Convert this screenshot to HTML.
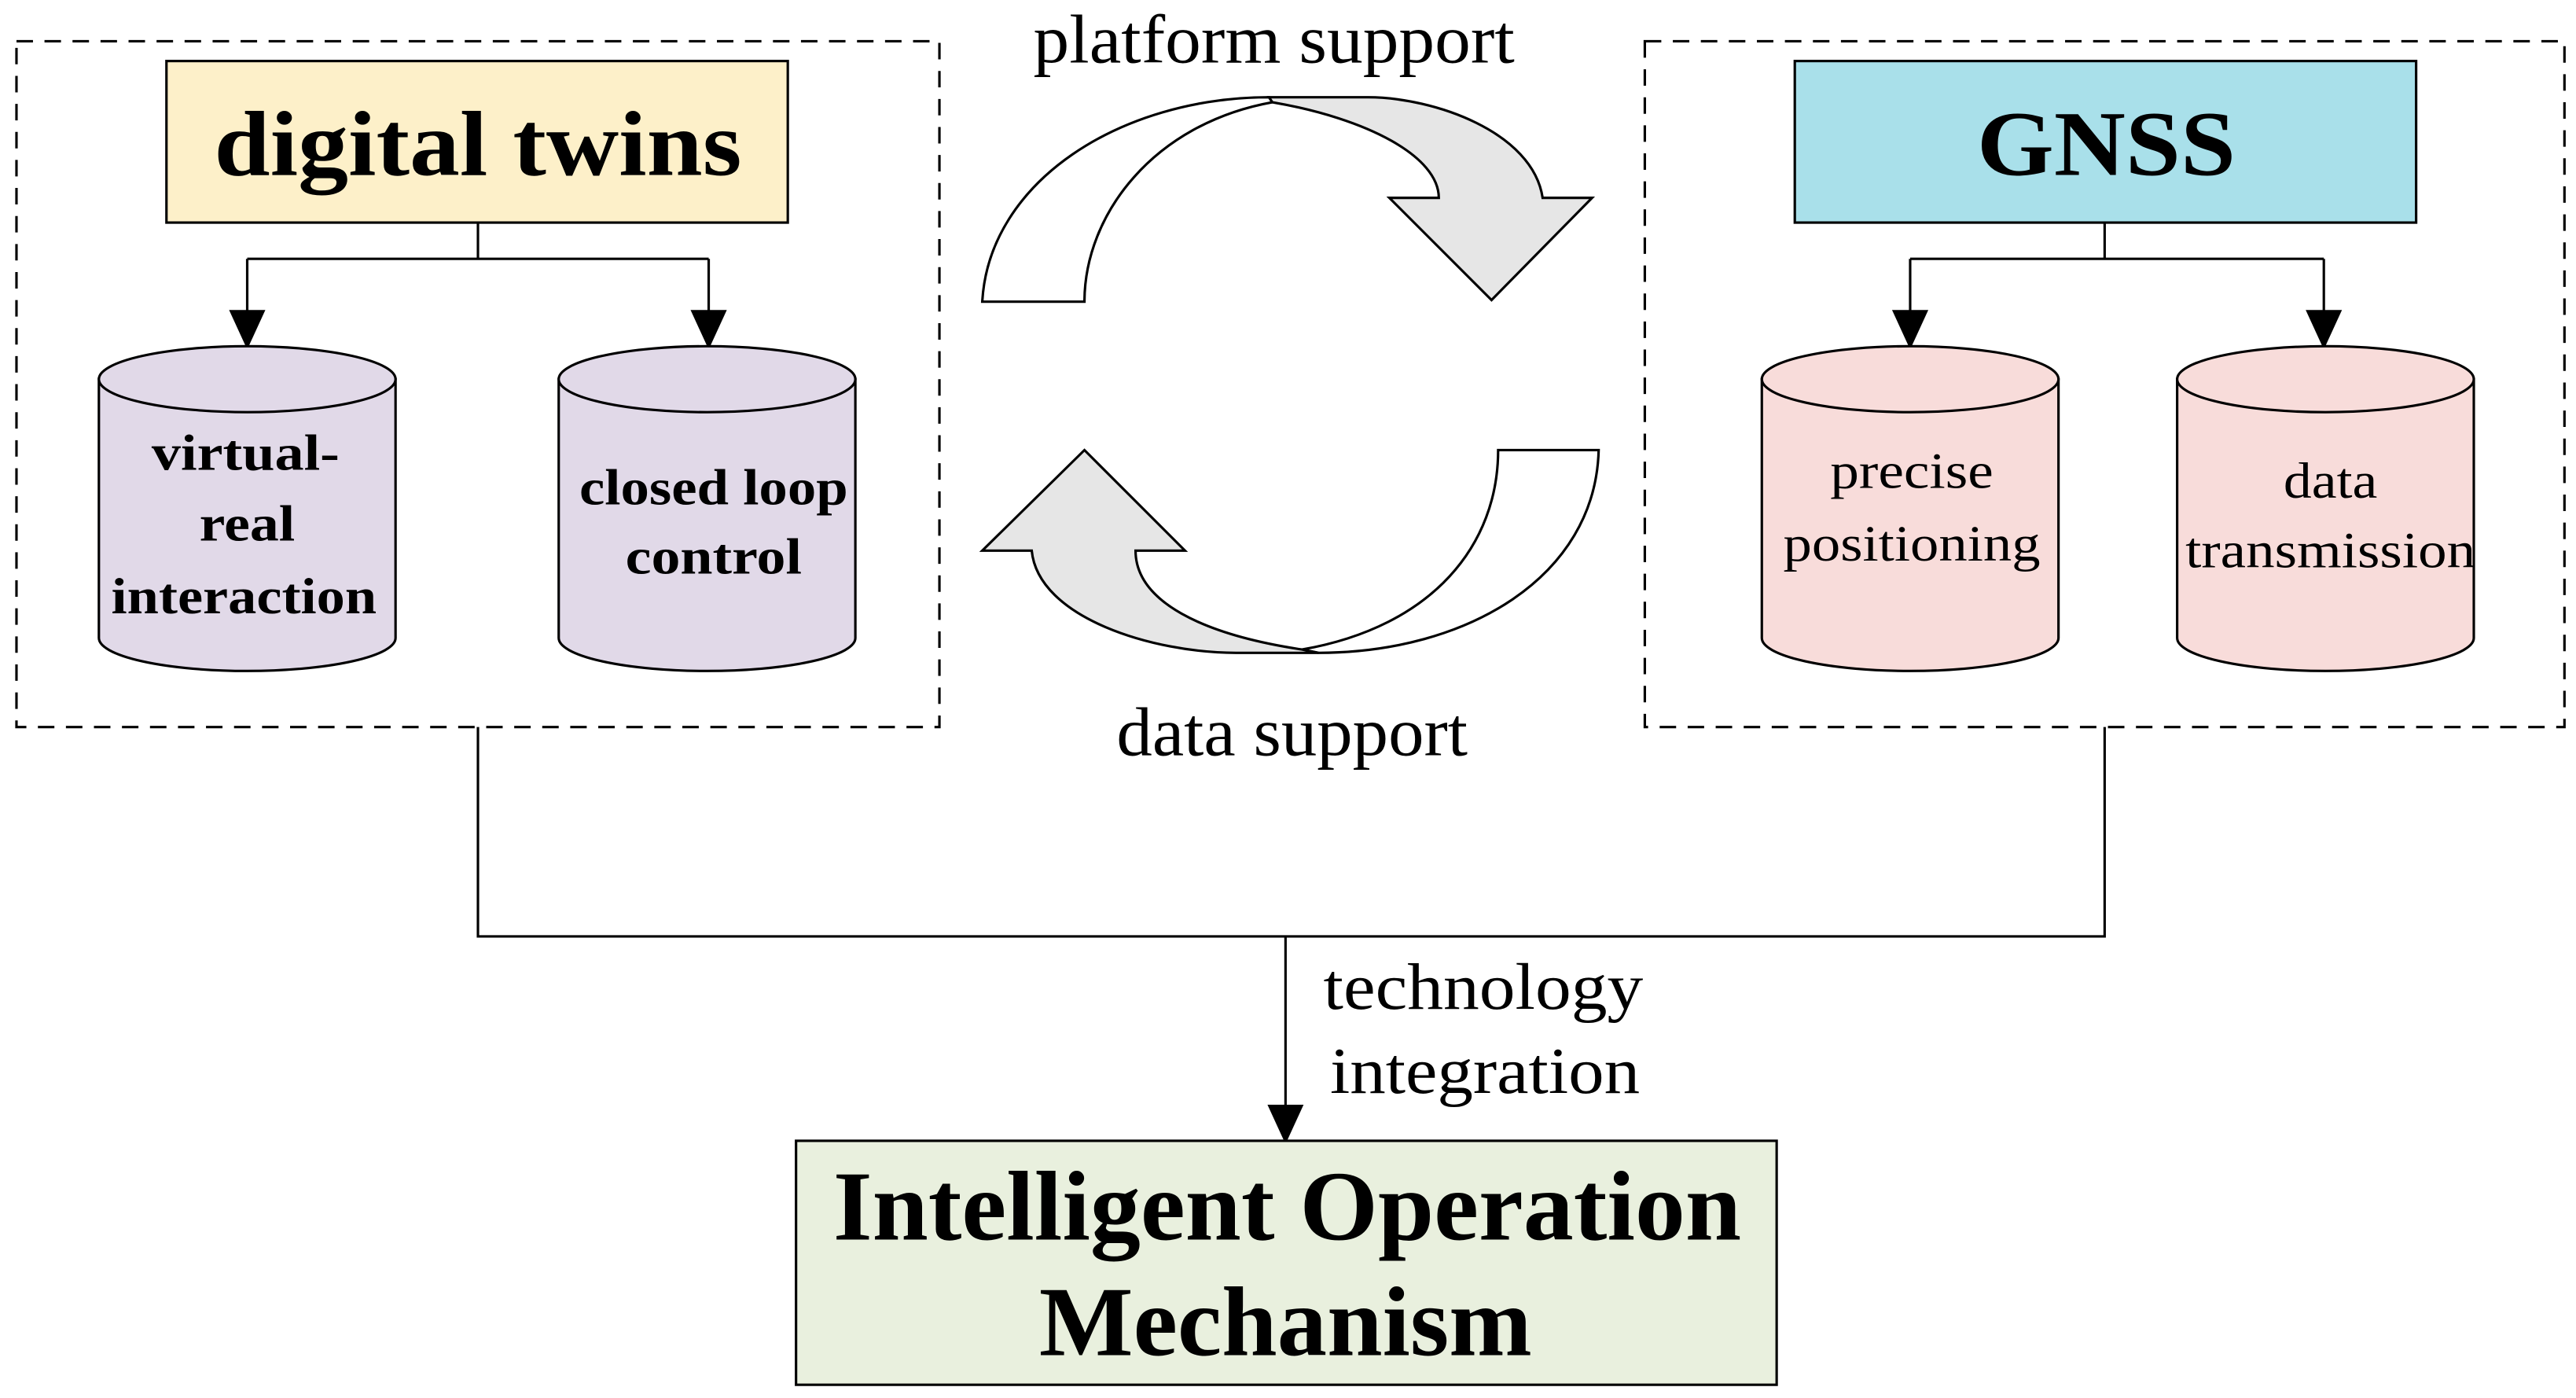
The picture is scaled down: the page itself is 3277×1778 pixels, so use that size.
<!DOCTYPE html>
<html><head><meta charset="utf-8"><style>
html,body{margin:0;padding:0;background:#fff}
svg{display:block}
text{font-family:"Liberation Serif",serif;fill:#000}
</style></head><body>
<svg width="3277" height="1778" viewBox="0 0 1563 848" xmlns="http://www.w3.org/2000/svg">
<defs>
<marker id="ah2" viewBox="0 0 24 24" markerWidth="24" markerHeight="24" refX="22" refY="12" orient="auto" markerUnits="userSpaceOnUse"><path d="M0,1 L24,12 L0,23z" fill="#000"/></marker></defs>
<g fill="none" stroke="#000" stroke-width="1.5" stroke-dasharray="10,7">
<rect x="10" y="25" width="560" height="416"/>
<rect x="998" y="25" width="558" height="416"/>
</g>
<rect x="101" y="37" width="377" height="98" fill="#fdf0c9" stroke="#000" stroke-width="1.5"/>
<text x="290" y="106" font-size="56" font-weight="bold" text-anchor="middle" textLength="320" lengthAdjust="spacingAndGlyphs">digital twins</text>
<rect x="1089" y="37" width="377" height="98" fill="#a9e0ea" stroke="#000" stroke-width="1.5"/>
<text x="1278" y="106" font-size="56" font-weight="bold" text-anchor="middle" textLength="157" lengthAdjust="spacingAndGlyphs">GNSS</text>
<g stroke="#000" stroke-width="1.5" fill="none">
<path d="M290,135 V157 M150,157 H430 M1277,135 V157 M1159,157 H1410"/>
<path d="M150,157 V210" marker-end="url(#ah2)"/>
<path d="M430,157 V210" marker-end="url(#ah2)"/>
<path d="M1159,157 V210" marker-end="url(#ah2)"/>
<path d="M1410,157 V210" marker-end="url(#ah2)"/>
<path d="M290,441 V568 H1277 V441" />
<path d="M780,568 V692" marker-end="url(#ah2)"/>
</g>
<g stroke="#000" stroke-width="1.5">
<g fill="#e1d9e8">
<path d="M60,230 V387 A90,20 0 0 0 240,387 V230 Z"/><ellipse cx="150" cy="230" rx="90" ry="20"/>
<path d="M339,230 V387 A90,20 0 0 0 519,387 V230 Z"/><ellipse cx="429" cy="230" rx="90" ry="20"/>
</g>
<g fill="#f8dcda">
<path d="M1069,230 V387 A90,20 0 0 0 1249,387 V230 Z"/><ellipse cx="1159" cy="230" rx="90" ry="20"/>
<path d="M1321,230 V387 A90,20 0 0 0 1501,387 V230 Z"/><ellipse cx="1411" cy="230" rx="90" ry="20"/>
</g>
</g>
<g font-size="31" font-weight="bold" text-anchor="middle" lengthAdjust="spacingAndGlyphs">
<text x="149" y="285" textLength="114" lengthAdjust="spacingAndGlyphs">virtual-</text>
<text x="150" y="328" textLength="58" lengthAdjust="spacingAndGlyphs">real</text>
<text x="148" y="372" textLength="161" lengthAdjust="spacingAndGlyphs">interaction</text>
<text x="433" y="306" textLength="163" lengthAdjust="spacingAndGlyphs">closed loop</text>
<text x="433" y="348" textLength="107" lengthAdjust="spacingAndGlyphs">control</text>
</g>
<g font-size="31" text-anchor="middle">
<text x="1160" y="296" textLength="99" lengthAdjust="spacingAndGlyphs">precise</text>
<text x="1160" y="340" textLength="156" lengthAdjust="spacingAndGlyphs">positioning</text>
<text x="1414" y="302" textLength="57" lengthAdjust="spacingAndGlyphs">data</text>
<text x="1414" y="344" textLength="176" lengthAdjust="spacingAndGlyphs">transmission</text>
</g>
<text x="773" y="38" font-size="42" text-anchor="middle" textLength="292" lengthAdjust="spacingAndGlyphs">platform support</text>
<text x="784" y="458" font-size="42" text-anchor="middle" textLength="213" lengthAdjust="spacingAndGlyphs">data support</text>
<text x="900" y="612" font-size="40" text-anchor="middle" textLength="194" lengthAdjust="spacingAndGlyphs">technology</text>
<text x="901" y="663" font-size="40" text-anchor="middle" textLength="188" lengthAdjust="spacingAndGlyphs">integration</text>
<g stroke="#000" stroke-width="1.5" stroke-linejoin="miter">
<path d="M596,183 C600,110 680,59 770,59 L772,62 C700,75 658,130 658,183 Z" fill="#fff"/>
<path d="M772,62 C830,72 873,95 873,120 L843,120 L905,182 L966,120 L936,120 C930,80 870,59 830,59 L770,59 Z" fill="#e6e6e6"/>
<path d="M970,273 C968,350 890,396 800,396 L790,394 C870,380 909,330 909,273 Z" fill="#fff"/>
<path d="M790,394 C730,385 689,365 689,334 L719,334 L658,273 L596,334 L626,334 C630,375 700,396 750,396 L800,396 Z" fill="#e6e6e6"/>
</g>
<rect x="483" y="692" width="595" height="148" fill="#e9f0de" stroke="#000" stroke-width="1.5"/>
<g font-size="60" font-weight="bold" text-anchor="middle">
<text x="781" y="752" textLength="551" lengthAdjust="spacingAndGlyphs">Intelligent Operation</text>
<text x="780" y="822" textLength="299" lengthAdjust="spacingAndGlyphs">Mechanism</text>
</g>
</svg>
</body></html>
